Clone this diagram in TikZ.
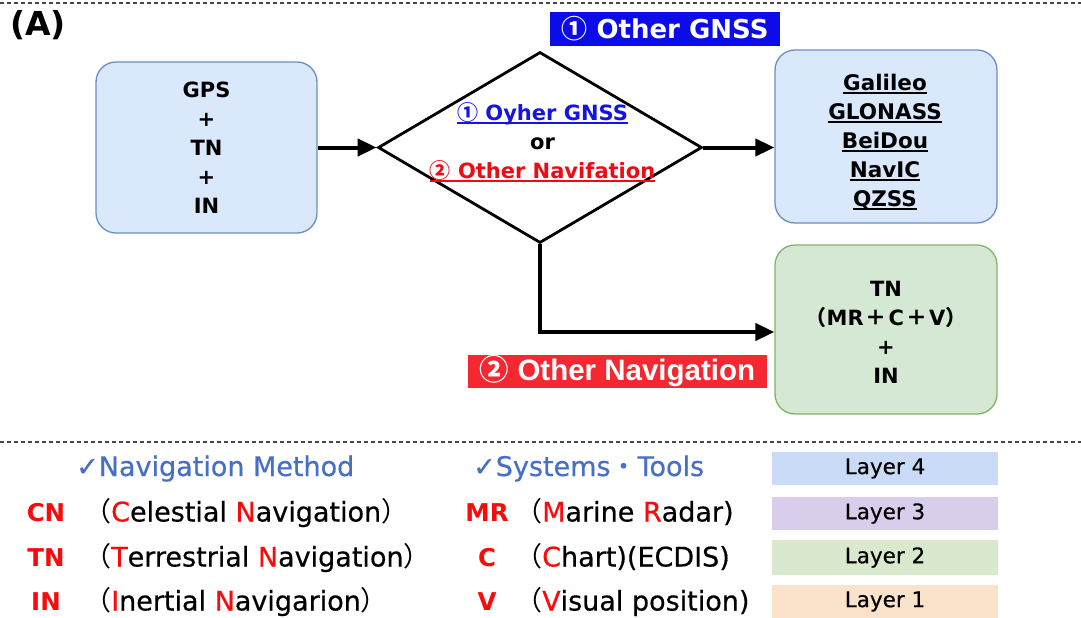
\documentclass[tikz,border=0pt]{standalone}
\usepackage{fontspec}
\setmainfont{DejaVu Sans}
\newfontfamily\jp{Noto Sans CJK JP}
\newfontfamily\lib{Liberation Sans}
\newfontfamily\med[FakeBold=0.5]{DejaVu Sans}
\usetikzlibrary{shapes.geometric,arrows.meta}
\definecolor{boxblue}{RGB}{218,232,252}
\definecolor{boxblueline}{RGB}{108,142,191}
\definecolor{boxgreen}{RGB}{213,232,212}
\definecolor{boxgreenline}{RGB}{130,179,102}
\definecolor{gnssblue}{RGB}{12,12,235}
\definecolor{navred}{RGB}{245,40,50}
\definecolor{linkblue}{RGB}{20,20,230}
\definecolor{linkred}{RGB}{240,10,20}
\definecolor{abbrred}{RGB}{250,10,10}
\definecolor{headblue}{RGB}{70,112,198}
\definecolor{layerfour}{RGB}{201,219,246}
\definecolor{layerthree}{RGB}{216,206,236}
\definecolor{layertwo}{RGB}{216,233,206}
\definecolor{layerone}{RGB}{251,226,202}
\definecolor{sepgray}{RGB}{70,70,70}
\newcommand{\myul}[1]{\setbox0\hbox{#1}\leavevmode\rlap{\rule[-3.5pt]{\wd0}{1.6pt}}\box0}
\newcommand{\lpar}{{\jp （}}
\newcommand{\rpar}{{\jp ）}}
\newcommand{\fwplus}{\hspace{2pt}{\jp\bfseries ＋}\hspace{2pt}}
\tikzset{
  seprule/.style={draw=sepgray, line width=1.2pt, dash pattern=on 4pt off 3pt},
  bluebox/.style={draw=boxblueline, fill=boxblue, line width=1.3pt, rounded corners=20pt, inner sep=0pt},
  greenbox/.style={draw=boxgreenline, fill=boxgreen, line width=1.3pt, rounded corners=20pt, inner sep=0pt},
  boxtext/.style={align=center, inner sep=0pt, font=\bfseries\fontsize{21}{29}\selectfont},
  decision/.style={shape=diamond, draw=black, line width=2.8pt, minimum width=324pt, minimum height=191pt, inner sep=0pt},
  arr/.style={line width=4pt, -{Triangle[length=19pt,width=17pt]}},
  tag/.style={text=white, inner sep=0pt, font=\bfseries},
  layerbar/.style={minimum width=226pt, inner sep=0pt, font=\med\fontsize{21.5}{23}\selectfont},
  head/.style={anchor=base west, text=headblue, font=\med\fontsize{27}{30}\selectfont, inner sep=0pt},
  abbr/.style={anchor=base, text=abbrred, font=\bfseries\fontsize{24.5}{28}\selectfont, inner sep=0pt},
  desc/.style={anchor=base west, font=\med\fontsize{27}{30}\selectfont, inner sep=0pt},
}
\begin{document}
\begin{tikzpicture}[x=1pt,y=-1pt]
\useasboundingbox (0,0) rectangle (1081,618);
\fill[white] (0,0) rectangle (1081,618);
\draw[seprule] (0,3) -- (1081,3);
\draw[seprule] (0,442) -- (1081,442);

\node[anchor=west, inner sep=0pt, font=\bfseries\fontsize{33}{35}\selectfont] (lblA) at (10,25) {(A)};

% flow nodes
\node[bluebox, minimum width=221pt, minimum height=171pt] (gps) at (206.5,147.5) {};
\node[boxtext] (gpstext) at (206.5,147.5) {GPS\\+\\TN\\+\\IN};
\node[decision] (dia) at (540,147.5) {};
\node[boxtext] (dtxt) at (542.5,142) {\textcolor{linkblue}{\myul{{\jp\bfseries ①}~Oyher GNSS}}\\or\\\textcolor{linkred}{\myul{{\jp\bfseries ②}~Other Navifation}}};
\node[bluebox, minimum width=222pt, minimum height=173pt] (gal) at (886,136.5) {};
\node[boxtext, font=\bfseries\fontsize{21.5}{29}\selectfont] (galtext) at (885,142) {\myul{Galileo}\\\myul{GLONASS}\\\myul{BeiDou}\\\myul{NavIC}\\\myul{QZSS}};
\node[greenbox, minimum width=222pt, minimum height=169pt] (tnbox) at (886,329.5) {};
\node[boxtext] (tntext) at (886,332) {TN\\{\jp\bfseries （}MR\fwplus C\fwplus V{\jp\bfseries ）}\\+\\IN};

% tags
\node[tag, fill=gnssblue, minimum width=230pt, minimum height=34pt, font=\bfseries\fontsize{26}{28}\selectfont] (tagone) at (665,29) {{\jp\bfseries ①}~Other GNSS};
\node[tag, fill=navred, minimum width=299pt, minimum height=33pt, font=\lib\bfseries\fontsize{29.5}{31}\selectfont] (tagtwo) at (617.5,371.5) {{\jp\bfseries ②}~Other Navigation};

% connectors
\draw[arr] (gps.east) -- (dia.west);
\draw[arr] (dia.east) -- (dia.east -| gal.west);
\draw[arr] (dia.south) |- ([yshift=-2.5pt]tnbox.west);

% legend headings
\node[head] (hnav) at (76,476) {✓Navigation Method};
\node[head] (hsys) at (473,476) {✓Systems{\jp ・}Tools};

% legend left
\node[abbr] (acn) at (46,521.5) {CN};
\node[abbr] (atn) at (46,566.5) {TN};
\node[abbr] (ain) at (46,610.5) {IN};
\node[desc] (dcn) at (84,521.5) {\lpar\textcolor{abbrred}{C}elestial \textcolor{abbrred}{N}avigation\rpar};
\node[desc] (dtn) at (84,566.5) {\lpar\textcolor{abbrred}{T}errestrial \textcolor{abbrred}{N}avigation\rpar};
\node[desc] (din) at (84,610.5) {\lpar\textcolor{abbrred}{I}nertial \textcolor{abbrred}{N}avigarion\rpar};

% legend right
\node[abbr] (amr) at (487,521.5) {MR};
\node[abbr] (ac) at (487,566.5) {C};
\node[abbr] (av) at (487,610.5) {V};
\node[desc] (dmr) at (515,521.5) {\lpar\textcolor{abbrred}{M}arine \textcolor{abbrred}{R}adar)};
\node[desc] (dc) at (515,566.5) {\lpar\textcolor{abbrred}{C}hart)(ECDIS)};
\node[desc] (dv) at (515,610.5) {\lpar\textcolor{abbrred}{V}isual position)};

% layers
\node[layerbar, fill=layerfour, minimum height=33pt] (lay4) at (885,468.5) {Layer 4};
\node[layerbar, fill=layerthree, minimum height=33pt] (lay3) at (885,513.5) {Layer 3};
\node[layerbar, fill=layertwo, minimum height=35pt] (lay2) at (885,557.5) {Layer 2};
\node[layerbar, fill=layerone, minimum height=33pt] (lay1) at (885,601.5) {Layer 1};
\end{tikzpicture}
\end{document}
